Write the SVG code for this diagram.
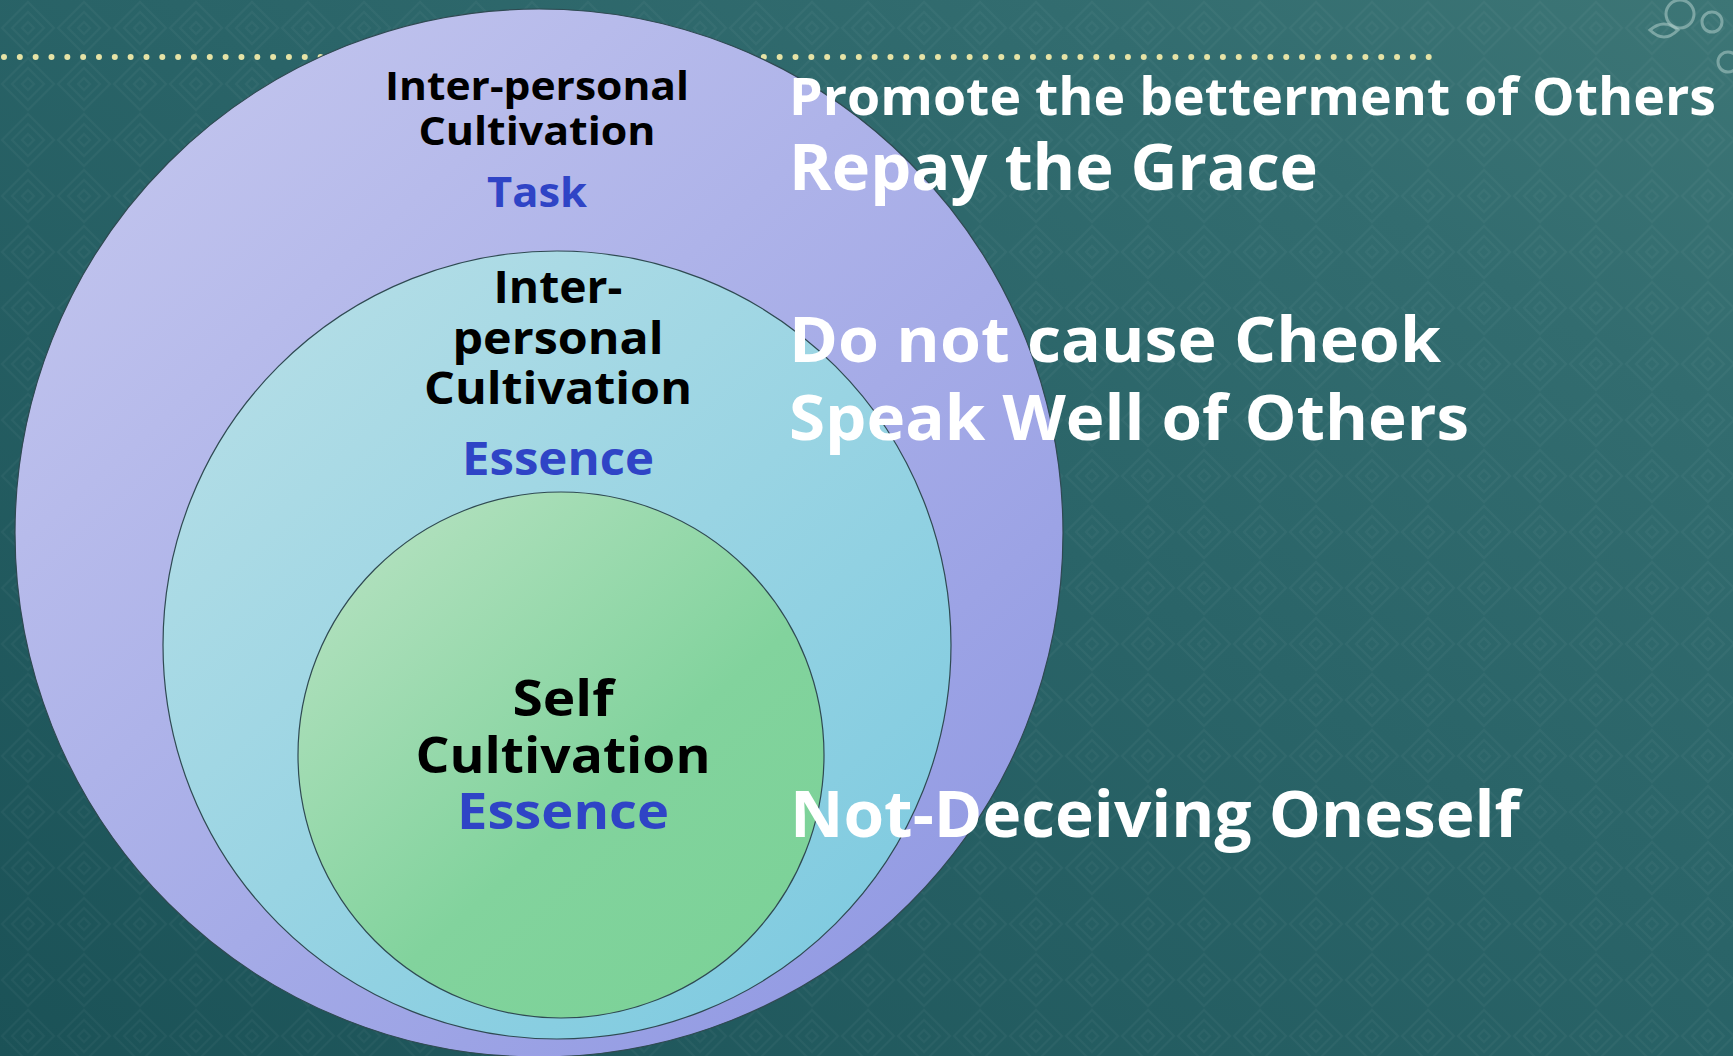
<svg xmlns="http://www.w3.org/2000/svg" width="1733" height="1056" viewBox="0 0 1733 1056">
<defs>
  <linearGradient id="bg" x1="0" y1="1" x2="1" y2="0">
    <stop offset="0" stop-color="#1b5257"/>
    <stop offset="0.55" stop-color="#2a6468"/>
    <stop offset="0.8" stop-color="#326c6f"/>
    <stop offset="1" stop-color="#3d7676"/>
  </linearGradient>
  <pattern id="tex" width="56" height="56" patternUnits="userSpaceOnUse">
    <path d="M28 2 L54 28 L28 54 L2 28 Z M28 12 L44 28 L28 44 L12 28 Z M28 22 L34 28 L28 34 L22 28 Z" fill="none" stroke="#ffffff" stroke-opacity="0.035" stroke-width="2"/>
  </pattern>
  <linearGradient id="gOuter" x1="0.15" y1="0.1" x2="0.85" y2="0.9">
    <stop offset="0" stop-color="#c0c3ed"/>
    <stop offset="1" stop-color="#939be3"/>
  </linearGradient>
  <linearGradient id="gMid" x1="0.15" y1="0.1" x2="0.85" y2="0.9">
    <stop offset="0" stop-color="#b2dde6"/>
    <stop offset="1" stop-color="#80cbe0"/>
  </linearGradient>
  <linearGradient id="gIn" x1="0.15" y1="0.1" x2="0.85" y2="0.9">
    <stop offset="0" stop-color="#b0e0bd"/>
    <stop offset="0.6" stop-color="#82d39d"/>
    <stop offset="1" stop-color="#7cd298"/>
  </linearGradient>
  <style>
    .ring { stroke: #2f4a52; stroke-width: 1.2; }
    .dark { font-family: "Open Sans", "Liberation Sans", sans-serif; font-weight: 700; fill: #000000; text-anchor: middle; }
    .blue { font-family: "Open Sans", "Liberation Sans", sans-serif; font-weight: 700; fill: #2f44c6; text-anchor: middle; }
    .white { font-family: "Open Sans", "Liberation Sans", sans-serif; font-weight: 700; fill: #ffffff; }
  </style>
</defs>

<g id="background">
  <rect width="1733" height="1056" fill="url(#bg)"/>
  <rect width="1733" height="1056" fill="url(#tex)"/>
  <g fill="none" stroke="#b9d6d2" stroke-opacity="0.5" stroke-width="3">
    <circle cx="1680" cy="14" r="14"/>
    <circle cx="1712" cy="22" r="10"/>
    <path d="M1650 30 q14 -12 28 0 q-14 14 -28 0 Z"/>
    <circle cx="1728" cy="62" r="10"/>
  </g>
</g>

<g id="divider">
  <line x1="4" y1="57" x2="1429" y2="57" stroke="#e6e3a6" stroke-width="6" stroke-linecap="round" stroke-dasharray="0 15.83"/>
</g>

<g id="outer-ring">
  <circle class="ring" cx="539" cy="533" r="524" fill="url(#gOuter)"/>
  <text class="dark" x="537" y="100" font-size="40" textLength="304" lengthAdjust="spacingAndGlyphs">Inter-personal</text>
  <text class="dark" x="537" y="145" font-size="40" textLength="237" lengthAdjust="spacingAndGlyphs">Cultivation</text>
  <text class="blue" x="537" y="207" font-size="42" textLength="100" lengthAdjust="spacingAndGlyphs">Task</text>
</g>

<g id="middle-ring">
  <circle class="ring" cx="557" cy="645" r="394" fill="url(#gMid)"/>
  <text class="dark" x="558" y="303" font-size="45" textLength="129" lengthAdjust="spacingAndGlyphs">Inter-</text>
  <text class="dark" x="558" y="354" font-size="45" textLength="211" lengthAdjust="spacingAndGlyphs">personal</text>
  <text class="dark" x="558" y="404" font-size="45" textLength="268" lengthAdjust="spacingAndGlyphs">Cultivation</text>
  <text class="blue" x="558" y="475" font-size="46" textLength="192" lengthAdjust="spacingAndGlyphs">Essence</text>
</g>

<g id="inner-ring">
  <circle class="ring" cx="561" cy="755" r="263" fill="url(#gIn)"/>
  <text class="dark" x="563" y="716" font-size="50" textLength="101" lengthAdjust="spacingAndGlyphs">Self</text>
  <text class="dark" x="563" y="773" font-size="50" textLength="295" lengthAdjust="spacingAndGlyphs">Cultivation</text>
  <text class="blue" x="563" y="829" font-size="50" textLength="212" lengthAdjust="spacingAndGlyphs">Essence</text>
</g>

<g id="practices">
  <text class="white" x="789" y="115" font-size="52" textLength="927" lengthAdjust="spacingAndGlyphs">Promote the betterment of Others</text>
  <text class="white" x="789" y="190" font-size="65" textLength="529" lengthAdjust="spacingAndGlyphs">Repay the Grace</text>
  <text class="white" x="789" y="362" font-size="63" textLength="652" lengthAdjust="spacingAndGlyphs">Do not cause Cheok</text>
  <text class="white" x="789" y="440" font-size="63" textLength="680" lengthAdjust="spacingAndGlyphs">Speak Well of Others</text>
  <text class="white" x="790" y="837" font-size="65" textLength="730" lengthAdjust="spacingAndGlyphs">Not-Deceiving Oneself</text>
</g>
</svg>
